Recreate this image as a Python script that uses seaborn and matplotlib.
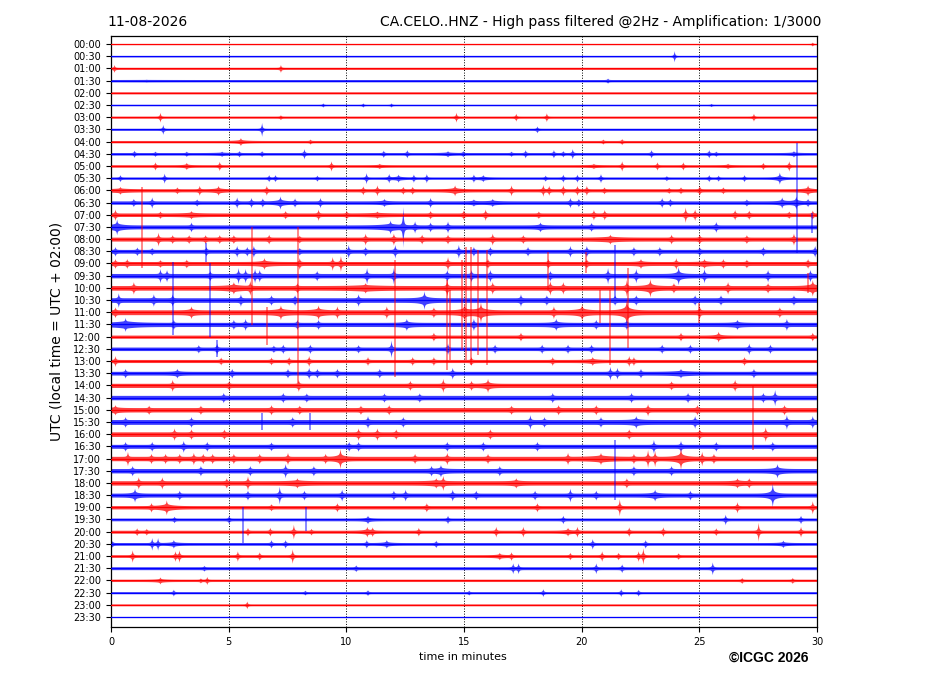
import numpy as np
import pandas as pd
import matplotlib
matplotlib.use("Agg")
import matplotlib.pyplot as plt
import seaborn as sns

# ---------------- data ----------------
date_label = "11-08-2026"
title_right = "CA.CELO..HNZ - High pass filtered @2Hz - Amplification: 1/3000"
x_label = "time in minutes"
y_label = "UTC (local time = UTC + 02:00)"
credit = "\u00a9ICGC 2026"

row_labels = ["00:00", "00:30", "01:00", "01:30", "02:00", "02:30", "03:00", "03:30",
              "04:00", "04:30", "05:00", "05:30", "06:00", "06:30", "07:00", "07:30",
              "08:00", "08:30", "09:00", "09:30", "10:00", "10:30", "11:00", "11:30",
              "12:00", "12:30", "13:00", "13:30", "14:00", "14:30", "15:00", "15:30",
              "16:00", "16:30", "17:00", "17:30", "18:00", "18:30", "19:00", "19:30",
              "20:00", "20:30", "21:00", "21:30", "22:00", "22:30", "23:00", "23:30"]
trace_colors = ["#ff0000", "#0000ff"]          # alternating per row
x_ticks = [0, 5, 10, 15, 20, 25, 30]

# background noise half-amplitude of every row (counts)
noise_level = [0.5, 0.6, 0.9, 1.0, 0.9, 0.6, 0.9, 0.9, 1.0, 1.1, 1.1, 1.0,
               1.4, 1.5, 1.6, 1.8, 1.8, 1.7, 1.8, 2.0, 2.1, 2.1, 2.2, 1.9,
               1.4, 1.6, 1.4, 1.7, 1.9, 2.0, 2.0, 2.2, 2.1, 1.8, 2.0, 2.0,
               2.0, 1.8, 1.5, 1.2, 1.3, 1.2, 1.2, 1.3, 1.0, 0.9, 0.8, 0.5]

# events per row: (minute, half-amplitude in counts[, duration in minutes])
events = [
    [(29.8, 1.5)],
    [(23.93, 5)],
    [(0.13, 3), (7.2, 3)],
    [(1.5, 0.3, 3.0), (21.1, 1.5)],
    [],
    [(9.0, 1.5), (10.7, 1.5), (11.9, 1.5), (25.5, 1)],
    [(2.08, 4), (7.2, 1.5), (14.66, 4), (17.2, 3), (18.5, 3.5), (27.3, 3)],
    [(2.2, 4), (6.4, 6), (18.1, 2.5)],
    [(5.5, 3, 0.6), (8.46, 1.5), (20.9, 1.5), (21.7, 2)],
    [(0.98, 2.5), (1.87, 1.5), (3.2, 1.5), (4.7, 1.5, 0.8), (5.44, 2), (6.4, 2), (8.2, 4),
     (11.57, 2.5), (12.57, 3), (14.3, 2, 0.6), (14.95, 2), (17.0, 1.5), (17.6, 3), (18.8, 3),
     (19.2, 2), (19.6, 4), (22.95, 3), (25.4, 3), (25.7, 1.5), (29.0, 2, 0.5)],
    [(1.87, 3), (3.2, 2.5, 0.4), (4.6, 3.5), (9.35, 4), (11.4, 1.5, 0.5), (20.5, 1.5, 0.6),
     (21.7, 4), (23.2, 3), (24.3, 3), (26.2, 1.5, 0.5), (27.7, 2.5), (28.8, 4)],
    [(0.38, 2.5), (2.26, 4), (6.7, 2.5), (6.97, 2.5), (8.75, 2), (10.84, 4.5), (11.8, 3.5),
     (12.2, 3, 0.6), (12.85, 3), (13.4, 3.5), (15.4, 3), (15.8, 2.5, 0.5), (18.45, 2), (19.2, 3),
     (19.8, 3), (20.8, 3.5), (23.6, 1.5), (25.4, 2.5), (25.8, 2), (26.9, 2.5), (28.4, 5, 0.4)],
    [(0.38, 2.5, 1.0), (2.8, 2), (3.75, 3.5), (4.55, 3.5, 0.5), (6.6, 3.5), (10.7, 3), (11.3, 4),
     (12.4, 2.5), (12.8, 2.5), (14.6, 4, 0.6), (17.0, 4), (18.35, 4.5), (18.6, 3.5), (19.2, 4),
     (19.8, 3.5), (20.2, 3.5), (20.95, 2), (23.7, 1.5), (24.2, 2), (25.0, 3.5), (26.0, 2),
     (29.6, 4, 0.5)],
    [(0.95, 2.5), (1.73, 4), (3.64, 2), (5.34, 4), (5.95, 3.5), (6.43, 3), (7.18, 5, 0.5), (7.8, 3),
     (8.88, 3.5), (11.6, 2.5, 0.5), (13.56, 3.5), (15.4, 2, 0.4), (16.2, 2.5, 0.6), (19.5, 3.5),
     (19.86, 2.5), (23.4, 3.5), (23.75, 2.5), (27.0, 2), (28.5, 4, 0.4), (29.1, 5, 0.4), (29.6, 2.5)],
    [(0.17, 4), (2.08, 2), (3.4, 2.5, 0.8), (7.4, 2.5), (8.8, 4), (10.0, 2.5), (11.3, 2, 1.0),
     (13.56, 2.5), (14.97, 3), (15.9, 4), (18.16, 2), (20.5, 3.5), (20.96, 3.5), (24.4, 6),
     (24.8, 4), (26.5, 3.5), (27.1, 3), (28.8, 2), (29.8, 3)],
    [(0.24, 6, 0.6), (3.4, 3), (11.86, 5, 1.0), (12.4, 18, 0.1), (12.9, 4), (13.56, 3), (14.3, 4),
     (18.23, 3, 0.4), (20.4, 2.5), (25.7, 3.5)],
    [(2.0, 5), (2.6, 2.5), (3.3, 2.5), (4.0, 2.5), (4.6, 2.5), (5.2, 2.5), (6.7, 3), (8.0, 2),
     (10.8, 4), (12.0, 4), (13.2, 3), (14.3, 3), (16.2, 4), (17.5, 2.5), (21.2, 3, 1.0), (23.8, 3),
     (25.0, 3), (27.0, 2.5), (29.0, 4)],
    [(0.17, 3), (1.1, 2.5), (1.73, 2), (4.04, 3), (5.34, 4), (5.77, 3), (6.05, 4), (8.0, 2),
     (10.08, 5), (10.8, 3), (12.06, 5), (14.76, 5), (15.4, 3), (16.1, 3), (17.7, 3), (19.5, 4),
     (20.2, 4), (22.2, 3), (23.3, 3), (25.0, 2.5), (27.7, 3), (29.9, 4)],
    [(0.17, 3), (0.67, 3), (2.08, 2), (3.2, 2.5), (6.5, 4, 0.6), (8.0, 4), (9.4, 5), (9.75, 6),
     (14.3, 5), (16.0, 3), (18.57, 3), (20.2, 3), (22.5, 3, 0.4), (24.0, 4), (25.2, 3, 0.5),
     (26.0, 3), (27.0, 2.5), (29.6, 3)],
    [(2.08, 5), (2.36, 4), (4.2, 3), (5.4, 6), (5.7, 5), (6.1, 5), (6.3, 4), (8.74, 3), (10.86, 6),
     (12.0, 6), (14.27, 4), (15.3, 4), (16.1, 4), (18.65, 3), (21.1, 6), (22.3, 5), (24.1, 7, 0.4),
     (25.2, 5), (27.9, 4), (29.7, 4)],
    [(0.95, 4), (5.2, 4, 0.8), (5.9, 5), (7.9, 3), (10.8, 3, 1.5), (14.27, 6), (16.2, 4),
     (18.65, 5), (19.2, 4), (21.9, 6), (22.9, 7, 0.5), (23.9, 3), (26.2, 4), (27.9, 3), (29.8, 6, 0.6)],
    [(0.31, 5), (1.8, 4), (2.6, 4), (5.5, 4), (6.8, 3), (7.8, 3), (10.5, 4), (13.3, 7, 0.5),
     (17.4, 4), (18.5, 3), (21.4, 3), (22.3, 3), (24.8, 3), (25.9, 3), (29.0, 3)],
    [(0.17, 3), (3.4, 4, 0.4), (7.2, 5, 0.6), (8.8, 5, 0.6), (9.6, 4), (11.7, 4), (13.7, 3),
     (15.0, 6, 0.5), (15.7, 8, 0.6), (18.8, 4), (20.0, 6, 0.6), (21.9, 12, 0.5), (25.0, 4), (28.4, 3)],
    [(0.6, 5, 1.2), (2.65, 3), (5.2, 3), (5.7, 4), (7.9, 3), (8.8, 3), (12.55, 4, 0.5), (15.4, 4),
     (18.9, 4, 0.5), (20.6, 3), (21.9, 3), (26.6, 3, 0.5), (28.7, 4)],
    [(13.7, 3), (17.4, 3), (24.2, 3), (25.8, 4, 0.4), (29.8, 3)],
    [(3.71, 2.5), (4.49, 4), (6.9, 2), (7.3, 3), (8.45, 3), (10.5, 2.5), (11.9, 7), (14.3, 4),
     (16.3, 3), (18.3, 3), (19.4, 3), (20.4, 3), (23.4, 3), (24.6, 3), (27.1, 4), (28.0, 3)],
    [(0.17, 4), (4.66, 2.5), (6.8, 2.5), (7.55, 3), (8.4, 4), (10.9, 3), (12.8, 3), (13.7, 3),
     (15.3, 3), (18.75, 3), (20.45, 3, 0.6), (22.0, 4), (22.2, 3), (26.9, 3)],
    [(0.6, 3), (2.8, 3, 0.4), (5.13, 3), (7.5, 3), (8.4, 4), (8.75, 3), (9.6, 3), (11.4, 3),
     (14.5, 4), (21.2, 5), (21.5, 4), (22.5, 3), (24.2, 3, 1.0), (27.3, 3)],
    [(2.6, 4), (5.0, 2.5), (7.96, 4), (12.7, 3), (14.1, 5), (15.3, 3), (16.0, 5, 0.4), (23.8, 2.5),
     (26.5, 4)],
    [(4.77, 3), (7.3, 3), (8.3, 2.5), (11.6, 2.5), (13.1, 2.5), (18.75, 3), (22.1, 3), (24.5, 3),
     (27.7, 3), (28.2, 6)],
    [(0.17, 3, 0.5), (1.6, 2.5), (3.8, 2.5), (6.8, 3), (8.0, 2.5), (10.6, 2.5), (11.8, 3), (17.0, 2.5),
     (19.0, 3), (20.6, 3), (22.8, 4), (24.9, 3), (28.6, 3)],
    [(0.6, 3), (3.4, 3), (7.7, 3), (10.9, 4), (12.4, 3), (17.8, 5), (18.4, 3), (20.8, 3),
     (22.3, 4, 0.5), (24.8, 4), (28.7, 5), (29.8, 4)],
    [(2.68, 4), (3.4, 3), (4.8, 3), (10.5, 4), (11.3, 4), (12.1, 3), (16.1, 3), (22.0, 3), (25.0, 3),
     (27.8, 5)],
    [(0.6, 3), (1.73, 3), (3.07, 4), (4.07, 3), (6.8, 2.5), (10.1, 3), (10.5, 3), (14.27, 3),
     (15.8, 3), (18.1, 3), (23.05, 5), (24.2, 4), (25.7, 3), (28.1, 3)],
    [(0.7, 5), (1.7, 3), (2.3, 3), (2.9, 3), (3.5, 4), (3.9, 3), (4.3, 3), (5.2, 3), (6.3, 3),
     (7.5, 4), (9.1, 3), (9.73, 8, 0.4), (12.9, 3), (14.27, 4), (16.0, 3), (19.4, 4), (20.8, 4, 1.0),
     (22.2, 3), (22.8, 7), (23.1, 6), (24.2, 9, 0.5), (25.1, 5), (25.6, 3)],
    [(0.9, 3), (3.8, 3), (5.9, 3), (7.4, 5), (8.6, 3), (13.6, 3), (14.0, 4, 0.5), (16.5, 3),
     (22.2, 3), (23.8, 3), (28.3, 5, 0.5)],
    [(1.16, 4), (2.16, 4), (4.9, 3), (5.8, 5), (7.9, 3, 0.8), (13.8, 3, 0.8), (14.1, 5),
     (17.2, 3, 0.5), (21.9, 3), (26.6, 3, 0.5), (27.1, 3)],
    [(1.0, 5, 0.4), (2.9, 3), (5.8, 3), (7.15, 7), (8.2, 3), (9.8, 4), (12.0, 3), (12.5, 4),
     (14.5, 4), (15.5, 3), (18.0, 3), (19.5, 5), (20.6, 3), (23.1, 4, 0.5), (24.6, 3), (28.1, 10, 0.4)],
    [(1.7, 3), (2.35, 6, 0.7), (6.8, 2), (9.6, 3), (13.4, 3), (18.1, 3), (21.6, 7), (26.6, 4),
     (29.8, 5)],
    [(2.68, 2), (5.0, 3), (10.9, 3, 0.4), (14.3, 3), (19.2, 3), (26.1, 4), (29.3, 3)],
    [(1.09, 2.5), (1.5, 2), (5.8, 3), (6.75, 3), (7.75, 6), (8.5, 2), (10.87, 4, 0.5), (11.1, 3),
     (13.06, 3), (16.35, 4), (17.5, 4), (19.4, 3, 0.5), (19.8, 4), (22.0, 3.5), (23.45, 3.5),
     (25.7, 2.5), (27.5, 8), (29.3, 4)],
    [(0.05, 2), (1.73, 5), (1.98, 5), (2.65, 3, 0.5), (6.8, 3), (7.4, 3), (10.85, 3), (11.7, 3, 0.5),
     (13.8, 2.5), (20.45, 4), (22.7, 3), (28.55, 2.5, 0.5)],
    [(0.9, 5), (2.72, 4), (2.89, 5), (5.37, 4), (6.3, 3), (7.7, 6), (16.5, 2.5, 0.5), (17.0, 3),
     (19.5, 2.5), (20.85, 4), (21.55, 2.5), (22.4, 4), (22.6, 7), (24.1, 2)],
    [(3.95, 1.5), (10.4, 2), (17.07, 4), (17.3, 4), (20.6, 4), (21.7, 3), (25.55, 5)],
    [(2.08, 2.5, 0.5), (3.8, 1.5), (4.07, 3), (26.8, 2), (28.95, 2)],
    [(2.65, 2.5), (8.24, 1.5), (10.9, 2), (15.2, 1.5), (18.35, 3), (21.66, 3), (22.4, 2.5)],
    [(5.77, 3)],
    [],
]

# long single spikes: row index, minute, upward and downward reach (counts)
spike_row = [13, 14, 17, 21, 21, 20, 22, 22, 22, 24, 24, 22, 22, 22, 22, 22, 18, 18,
             19, 22, 22, 22, 22, 15, 20, 30, 35, 31, 31, 25, 39, 39]
spike_min = [29.15, 1.30, 4.04, 2.62, 4.21, 5.98, 6.62, 7.93, 12.07, 14.27, 14.4, 14.9,
             15.1, 15.3, 15.6, 15.97, 18.57, 20.2, 21.4, 21.2, 21.97, 20.8, 25.0, 29.8,
             29.6, 27.3, 21.4, 6.4, 8.46, 4.49, 5.62, 8.27]
spike_up = [60, 28, 8, 38, 37, 61, 5, 85, 52, 57, 47, 52, 65, 65, 62, 62, 11, 11,
            31, 22, 44, 22, 9, 14, 15, 25, 31, 9, 9, 9, 12, 12]
spike_down = [50, 53, 11, 35, 37, 37, 33, 71, 65, 33, 23, 38, 48, 53, 43, 53, 27, 10,
              22, 53, 36, 11, 11, 6, 5, 40, 29, 8, 8, 8, 24, 12]

# ---------------- drawing ----------------
GAIN = 1 / 12.19          # counts -> row spacing
t = np.linspace(0, 30, 6001)

sns.set_style("ticks", {"axes.edgecolor": "black", "xtick.color": "black",
                        "ytick.color": "black", "text.color": "black",
                        "axes.labelcolor": "black"})
plt.rcParams["font.family"] = ["DejaVu Sans"]

fig = plt.figure(figsize=(9.27, 6.96), dpi=100)
ax = fig.add_axes([111 / 927, 1 - 627 / 696, 706 / 927, 591 / 696])

n_rows = len(row_labels)
colors = [trace_colors[k % 2] for k in range(n_rows)]

for k in range(n_rows):
    env = np.full_like(t, noise_level[k] * 1.1)
    for ev in events[k]:
        t0, amp = ev[0], ev[1]
        dur = ev[2] if len(ev) > 2 else 0.12
        dt = np.abs(t - t0)
        # sharp onset peak plus a broader coda
        env = env + amp * (0.65 * np.exp(-dt / 0.022) + 0.35 * np.exp(-dt / (dur / 2.5)))
    ax.fill_between(t, k - env * GAIN, k + env * GAIN, color=colors[k], lw=0,
                    alpha=0.75, zorder=2)

base = pd.DataFrame({
    "minute": [0, 30] * n_rows,
    "row": [k for k in range(n_rows) for _ in range(2)],
    "label": [row_labels[k] for k in range(n_rows) for _ in range(2)],
})
sns.lineplot(data=base, x="minute", y="row", hue="label",
             palette=dict(zip(row_labels, colors)), legend=False,
             estimator=None, lw=0.9, ax=ax, zorder=3)

sp_rows = np.array(spike_row)
ax.vlines(spike_min, sp_rows - np.array(spike_up) * GAIN,
          sp_rows + np.array(spike_down) * GAIN,
          colors=[colors[r] for r in spike_row], lw=1.2, alpha=0.55, zorder=4)

for xv in x_ticks[1:-1]:
    ax.axvline(xv, color="black", ls=":", lw=0.7, zorder=1)

ax.set_xlim(0, 30)
ax.set_ylim(n_rows - 0.18, -0.66)
ax.set_xticks(x_ticks)
ax.set_xticklabels([str(v) for v in x_ticks])
ax.set_yticks(range(n_rows))
ax.set_yticklabels(row_labels)
ax.tick_params(axis="both", labelsize=7, direction="out", length=3.5, width=0.8)
ax.set_xlabel("")
ax.set_ylabel("")
for s in ax.spines.values():
    s.set_linewidth(0.9)
    s.set_color("black")

fig.text(107 / 927, 1 - 26 / 696, date_label, fontsize=10, ha="left", va="baseline")
fig.text(821 / 927, 1 - 26 / 696, title_right, fontsize=10, ha="right", va="baseline")
fig.text(57 / 927, 1 - 331 / 696, y_label, fontsize=10, rotation=90,
         ha="center", va="center")
fig.text(463 / 927, 1 - 657 / 696, x_label, fontsize=8, ha="center", va="center")
fig.text(729 / 927, 1 - 658 / 696, credit, fontsize=10, fontweight="bold",
         family=["Liberation Sans", "DejaVu Sans"], ha="left", va="center")

fig.savefig("out.png", dpi=100)
